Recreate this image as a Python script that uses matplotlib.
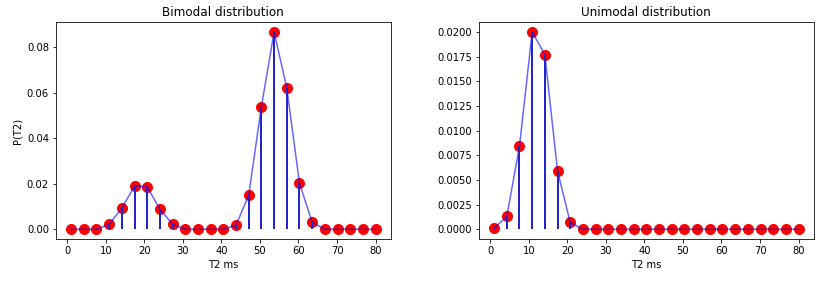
import numpy as np
import matplotlib
matplotlib.use("Agg")
import matplotlib.pyplot as plt

# T2 grid (ms)
t2 = np.linspace(1, 80, 25)

# bimodal P(T2)
p_bimodal = [0.0, 0.0, 0.0, 0.0022, 0.0093, 0.0190, 0.0187, 0.0088, 0.0022,
             0.0, 0.0, 0.0, 0.0, 0.0018, 0.0150, 0.0540, 0.0868, 0.0622,
             0.0203, 0.0031, 0.0, 0.0, 0.0, 0.0, 0.0]

# unimodal P(T2)
p_unimodal = [0.0001, 0.0013, 0.0084, 0.0200, 0.0177, 0.0059, 0.0007,
              0.0, 0.0, 0.0, 0.0, 0.0, 0.0, 0.0, 0.0, 0.0, 0.0, 0.0,
              0.0, 0.0, 0.0, 0.0, 0.0, 0.0, 0.0]

fig, (ax1, ax2) = plt.subplots(1, 2, figsize=(822/72, 283/72), dpi=72)
fig.subplots_adjust(left=0.068, right=0.990, bottom=0.155, top=0.922, wspace=0.263)


def draw(ax, y, title):
    ax.scatter(t2, y, s=100, color='red', zorder=2)
    ax.plot(t2, y, color='b', alpha=0.6, zorder=3)
    ax.vlines(t2, 0, y, colors='#2424c8', linewidth=2, zorder=4)
    ax.set_title(title)
    ax.set_xlabel('T2 ms')
    ax.set_xticks(np.arange(0, 81, 10))


draw(ax1, p_bimodal, 'Bimodal distribution')
ax1.set_ylabel('P(T2)')
draw(ax2, p_unimodal, 'Unimodal distribution')

fig.savefig('out.png')
